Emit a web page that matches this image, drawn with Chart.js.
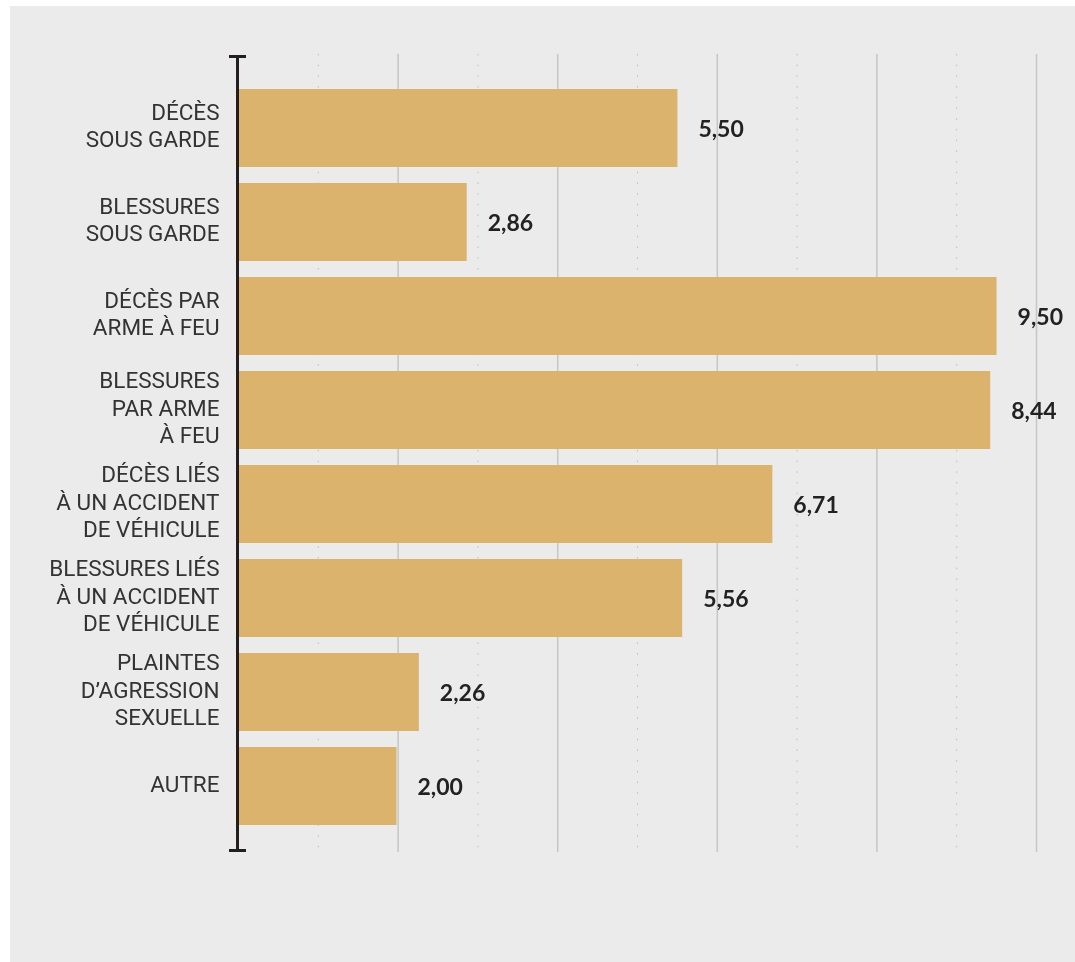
<!DOCTYPE html>
<html>
<head>
<meta charset="utf-8">
<script src="https://cdn.jsdelivr.net/npm/chart.js@4.4.1/dist/chart.umd.min.js"></script>
<style>
  html, body { margin: 0; padding: 0; background: #ffffff; }
  #frame { position: absolute; left: 10px; top: 6px; width: 1065px; height: 956px; background: #ebebeb; }
  canvas { display: block; }
</style>
</head>
<body>
<div id="frame"><canvas id="c" width="1065" height="956" style="width:1065px;height:956px"></canvas></div>
<script>
// ---- data ----
const categories = [
  ["DÉCÈS", "SOUS GARDE"],
  ["BLESSURES", "SOUS GARDE"],
  ["DÉCÈS PAR", "ARME À FEU"],
  ["BLESSURES", "PAR ARME", "À FEU"],
  ["DÉCÈS LIÉS", "À UN ACCIDENT", "DE VÉHICULE"],
  ["BLESSURES LIÉS", "À UN ACCIDENT", "DE VÉHICULE"],
  ["PLAINTES", "D’AGRESSION", "SEXUELLE"],
  ["AUTRE"]
];
// values printed next to the bars
const values = [5.50, 2.86, 9.50, 8.44, 6.71, 5.56, 2.26, 2.00];
// bar lengths as drawn in the source picture (the 8,44 bar is drawn at about 9.42)
const barLengths = [5.50, 2.86, 9.50, 9.42, 6.69, 5.56, 2.26, 1.98];
const gridTicks = [1, 2, 3, 4, 5, 6, 7, 8, 9, 10];
const axisMin = 0, axisMax = 10;

const fmt = v => v.toFixed(2).replace('.', ',');

const decor = {
  id: 'decor',
  beforeDatasetsDraw(chart) {
    const { ctx, chartArea: { top, bottom }, scales: { x } } = chart;
    const y0 = top - 27, y1 = bottom + 19;
    gridTicks.forEach(v => {
      const px = x.getPixelForValue(v);
      ctx.save();
      ctx.beginPath();
      if (v % 2 === 0) {
        ctx.strokeStyle = '#c6c6c6';
        ctx.lineWidth = 1.5;
        ctx.setLineDash([]);
      } else {
        ctx.strokeStyle = '#bdbdbd';
        ctx.lineWidth = 1;
        ctx.setLineDash([1.5, 9.2]);
      }
      ctx.moveTo(px, y0);
      ctx.lineTo(px, y1);
      ctx.stroke();
      ctx.restore();
    });
  },
  afterDatasetsDraw(chart) {
    const { ctx, chartArea: { top, bottom }, scales: { x } } = chart;
    const ax = x.getPixelForValue(0) - 1;
    ctx.save();
    ctx.strokeStyle = '#231f20';
    ctx.lineWidth = 3;
    ctx.beginPath();
    ctx.moveTo(ax, top - 26);
    ctx.lineTo(ax, bottom + 19);
    ctx.stroke();
    ctx.beginPath();
    ctx.moveTo(ax - 8.5, top - 24.5);
    ctx.lineTo(ax + 8.5, top - 24.5);
    ctx.moveTo(ax - 8.5, bottom + 17.5);
    ctx.lineTo(ax + 8.5, bottom + 17.5);
    ctx.stroke();
    // value labels
    const meta = chart.getDatasetMeta(0);
    ctx.fillStyle = '#222222';
    ctx.font = 'bold 23px Lato, "Open Sans", sans-serif';
    ctx.textAlign = 'left';
    ctx.textBaseline = 'middle';
    meta.data.forEach((el, i) => {
      ctx.fillText(fmt(values[i]), el.x + 21, el.y + 2);
    });
    ctx.restore();
  }
};

function draw() {
  new Chart(document.getElementById('c'), {
    type: 'bar',
    data: {
      labels: categories,
      datasets: [{
        data: barLengths,
        backgroundColor: '#dcb36d',
        borderWidth: 0,
        barPercentage: 78 / 94,
        categoryPercentage: 1
      }]
    },
    options: {
      indexAxis: 'y',
      responsive: false,
      animation: false,
      devicePixelRatio: 1,
      layout: { padding: { top: 75, bottom: 129, left: 0, right: 38.5 } },
      plugins: { legend: { display: false }, tooltip: { enabled: false } },
      scales: {
        x: {
          display: false,
          min: axisMin,
          max: axisMax
        },
        y: {
          display: true,
          grid: { display: false, drawTicks: false },
          border: { display: false },
          ticks: {
            color: '#333333',
            padding: 19,
            font: { family: 'Roboto, "Liberation Sans", sans-serif', size: 22.5, lineHeight: 27.5 / 22.5 }
          },
          afterFit(scale) { scale.width = 228.5; }
        }
      }
    },
    plugins: [decor]
  });
}

Promise.all([
  document.fonts.load('22px Roboto'),
  document.fonts.load('bold 23px Lato')
]).then(draw, draw);
</script>
</body>
</html>
